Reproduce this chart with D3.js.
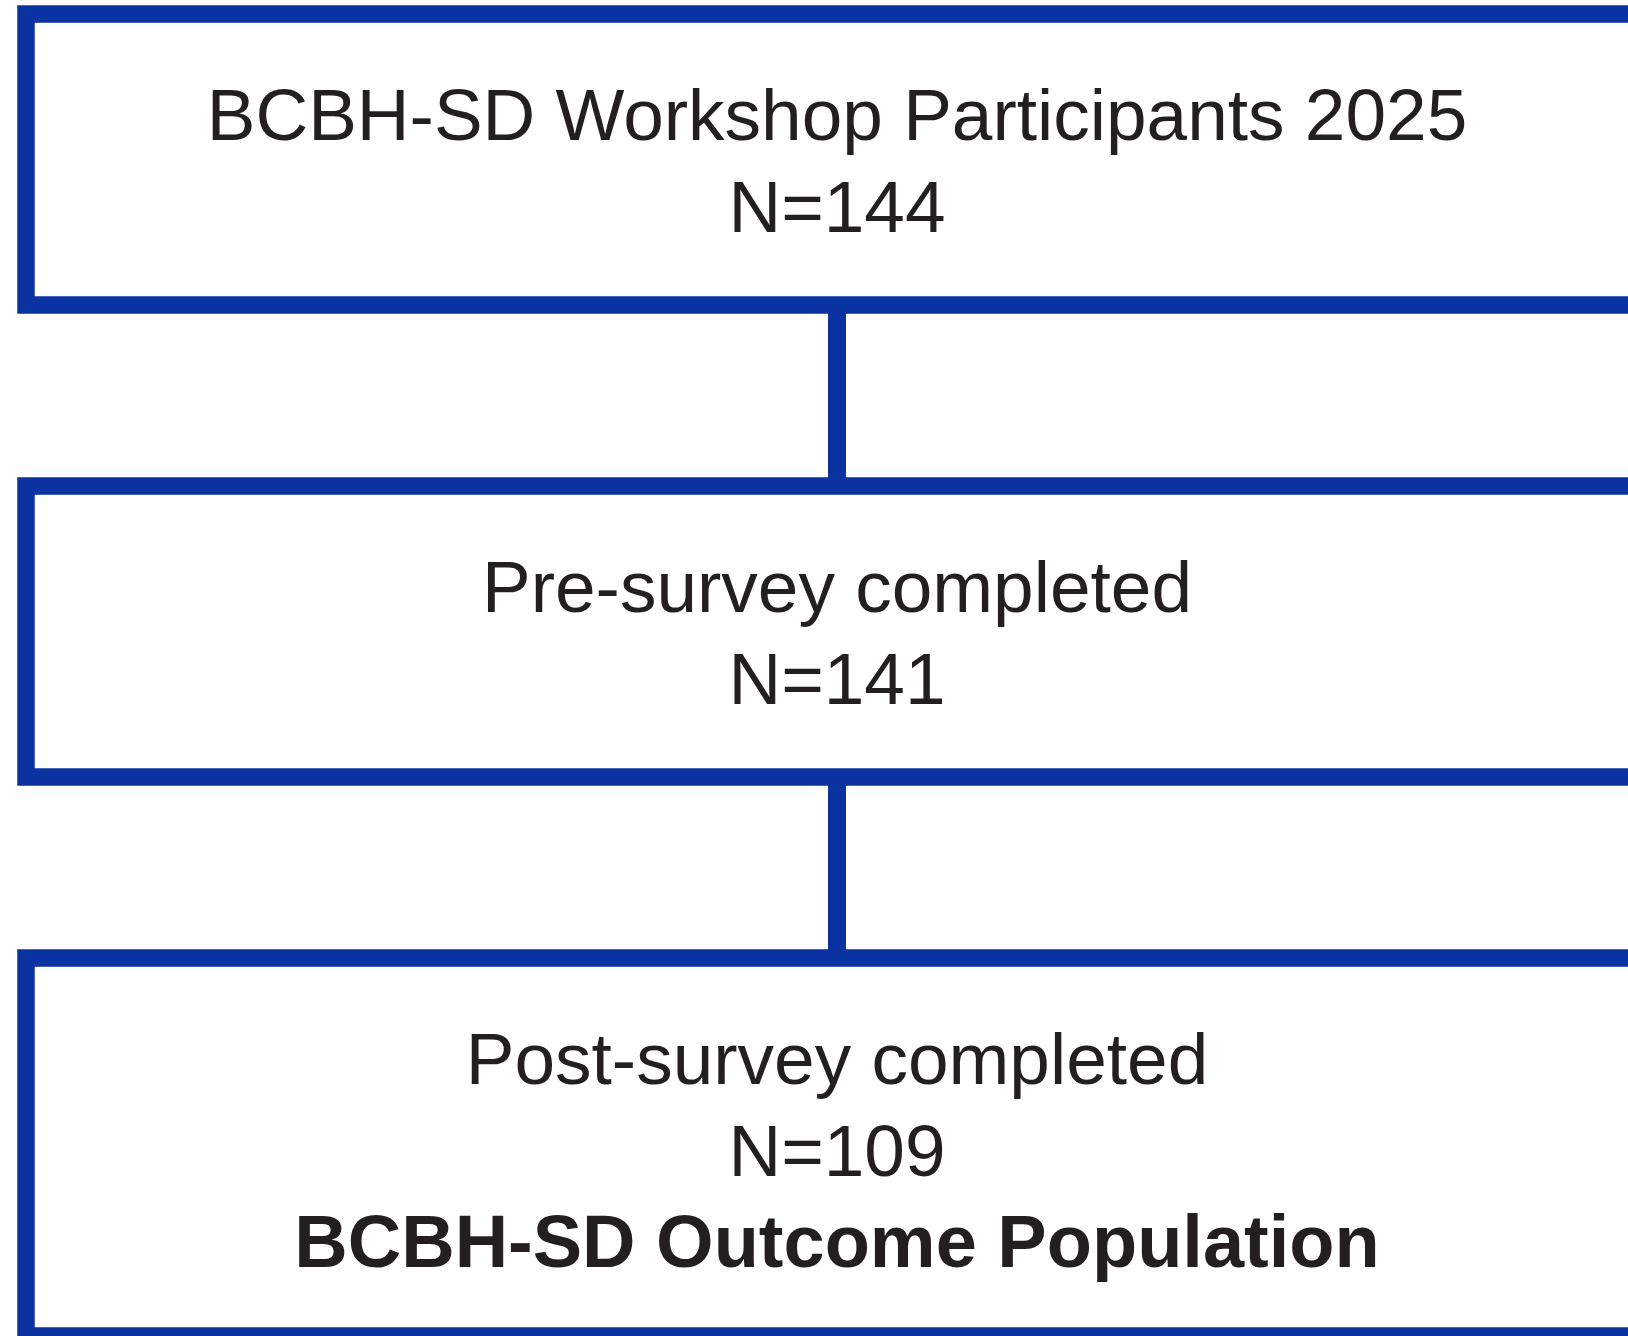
<!DOCTYPE html>
<html>
<head>
<meta charset="utf-8">
<script src="https://cdn.jsdelivr.net/npm/d3@7"></script>
<style>
	html, body { margin: 0; padding: 0; background: #fff; overflow: hidden; }
	svg { display: block; }
</style>
</head>
<body>
<div id="container"></div>
<script>
// flow stages
const stages = ["BCBH-SD Workshop Participants 2025", "Pre-survey completed", "Post-survey completed"];
const counts = [144, 141, 109];
const notes = ["", "", "BCBH-SD Outcome Population"];

const W = 1628, H = 1336;
const blue = "#0a32a0";
const ink = "#231f20";
const bw = 17.5; // border width

const svg = d3.select("#container").append("svg")
	.attr("width", W)
	.attr("height", H);

// vertical position of each box (stroke centre of top edge)
const y = d3.scaleLinear().domain([0, 1]).range([14, 486]);
// baseline of each text line inside a box
const lineY = d3.scaleLinear().domain([0, 1]).range([126, 217.5]);
const cx = 837;

const rows = stages.map((s, i) => {
	const lines = [s, `N=${counts[i]}`];
	if (notes[i]) lines.push(notes[i]);
	// box height grows with the number of lines
	return { i, lines, top: y(i), h: 291 + (lines.length - 2) * 87 };
});

// connectors
const g = svg.append("g");
rows.slice(1).forEach((r, k) => {
	const prev = rows[k];
	g.append("line")
		.attr("x1", cx).attr("x2", cx)
		.attr("y1", prev.top + prev.h)
		.attr("y2", r.top)
		.attr("stroke", blue)
		.attr("stroke-width", 18);
});

const box = svg.selectAll("g.box").data(rows).join("g")
	.attr("class", "box")
	.attr("transform", d => `translate(0,${d.top})`);

box.append("rect")
	.attr("x", 26)
	.attr("y", 0)
	.attr("width", W + 100)
	.attr("height", d => d.h)
	.attr("fill", "#fff")
	.attr("stroke", blue)
	.attr("stroke-width", bw);

box.selectAll("text").data(d => d.lines.map((t, j) => ({ t, j, bold: j === 2 }))).join("text")
	.attr("x", cx)
	.attr("y", d => lineY(d.j))
	.attr("text-anchor", "middle")
	.attr("font-family", "'Liberation Sans', Arial, sans-serif")
	.attr("font-size", d => d.bold ? 74 : 73)
	.attr("font-weight", d => d.bold ? 700 : 400)
	.attr("fill", ink)
	.text(d => d.t);
</script>
</body>
</html>
